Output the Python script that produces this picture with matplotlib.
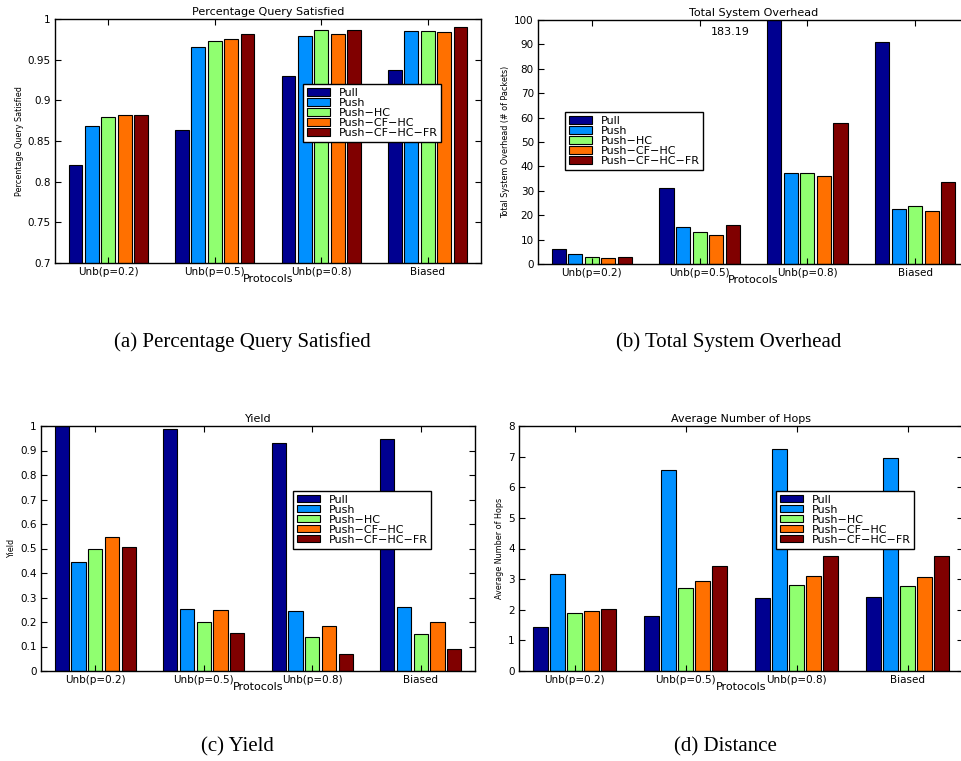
import numpy as np
import matplotlib
matplotlib.use("Agg")
import matplotlib.pyplot as plt
from matplotlib.ticker import FormatStrFormatter

plt.rcParams["font.family"] = ["DejaVu Sans"]

W, H = 961, 761

protocols = ["Unb(p=0.2)", "Unb(p=0.5)", "Unb(p=0.8)", "Biased"]
series = ["Pull", "Push", "Push\u2212HC", "Push\u2212CF\u2212HC", "Push\u2212CF\u2212HC\u2212FR"]
# jet colormap picks, one per protocol variant
colors = ["#000090", "#0090ff", "#90ff70", "#ff7000", "#800000"]

query_sat = [
    [0.820, 0.863, 0.930, 0.937],   # Pull
    [0.869, 0.965, 0.979, 0.985],   # Push
    [0.879, 0.973, 0.986, 0.985],   # Push-HC
    [0.882, 0.976, 0.982, 0.984],   # Push-CF-HC
    [0.882, 0.982, 0.987, 0.990],   # Push-CF-HC-FR
]
overhead = [
    [6.3, 31.0, 183.19, 90.8],
    [4.0, 15.3, 37.4, 22.4],
    [2.7, 13.0, 37.4, 23.8],
    [2.6, 11.7, 35.9, 21.6],
    [2.9, 16.0, 57.7, 33.6],
]
yield_ = [
    [0.998, 0.986, 0.932, 0.946],
    [0.446, 0.255, 0.243, 0.262],
    [0.500, 0.202, 0.139, 0.150],
    [0.545, 0.248, 0.184, 0.200],
    [0.508, 0.157, 0.068, 0.091],
]
hops = [
    [1.44, 1.78, 2.39, 2.42],
    [3.17, 6.57, 7.25, 6.94],
    [1.91, 2.72, 2.82, 2.78],
    [1.97, 2.95, 3.11, 3.08],
    [2.04, 3.44, 3.76, 3.77],
]

fig = plt.figure(figsize=(W / 100, H / 100), dpi=100)


def px_axes(l, r, t, b):
    return fig.add_axes([l / W, 1 - b / H, (r - l) / W, (b - t) / H])


def grouped_bars(ax, data, title, ylabel, ylim, yticks, fmt, leg_box):
    x = np.arange(1, len(protocols) + 1)
    step = 0.769 / len(series)
    for i, (name, vals) in enumerate(zip(series, data)):
        ax.bar(x + (i - 2) * step, vals, width=step * 0.85, color=colors[i],
               edgecolor="black", linewidth=0.8, label=name)
    ax.set_xlim(0.5, 4.5)
    ax.set_ylim(*ylim)
    ax.set_yticks(yticks)
    ax.yaxis.set_major_formatter(FormatStrFormatter(fmt))
    ax.set_xticks(x)
    ax.set_xticklabels(protocols)
    ax.tick_params(direction="in", length=4, width=0.8, top=True, right=True,
                   labelsize=7.5, pad=3)
    for s in ax.spines.values():
        s.set_linewidth(1.0)
    ax.set_title(title, fontsize=8, pad=3)
    ax.set_xlabel("Protocols", fontsize=8, labelpad=-2)
    ax.set_ylabel(ylabel, fontsize=5.8, labelpad=3)
    lx, ly = leg_box
    ax.legend(loc="upper left", bbox_to_anchor=(lx / W, 1 - ly / H),
              bbox_transform=fig.transFigure, fontsize=8, fancybox=False,
              framealpha=1, edgecolor="black", borderaxespad=0, borderpad=0.35,
              labelspacing=0.0, handlelength=2.1, handleheight=0.6,
              handletextpad=0.75)
    ax.get_legend().get_frame().set_linewidth(1.0)


ax_a = px_axes(55, 481, 19, 263)
grouped_bars(ax_a, query_sat, "Percentage Query Satisfied", "Percentage Query Satisfied",
             (0.7, 1.0), np.arange(0.7, 1.0001, 0.05), "%g", (303, 84))

ax_b = px_axes(538, 969, 20, 264)
grouped_bars(ax_b, overhead, "Total System Overhead", "Total System Overhead (# of Packets)",
             (0, 100), np.arange(0, 101, 10), "%g", (565, 112))
ax_b.text(2.28, 95, f"{overhead[0][2]:.2f}", ha="center", va="center", fontsize=8)

ax_c = px_axes(41, 475, 426, 671)
grouped_bars(ax_c, yield_, "Yield", "Yield",
             (0, 1.0), np.arange(0, 1.0001, 0.1), "%g", (293, 491))

ax_d = px_axes(519, 963, 426, 671)
grouped_bars(ax_d, hops, "Average Number of Hops", "Average Number of Hops",
             (0, 8), np.arange(0, 9, 1), "%g", (776, 491))

captions = [("(a) Percentage Query Satisfied", 242, 342),
            ("(b) Total System Overhead", 729, 342),
            ("(c) Yield", 237, 747),
            ("(d) Distance", 725, 747)]
for txt, cx, cy in captions:
    fig.text(cx / W, 1 - cy / H, txt, ha="center", va="center",
             fontsize=15, family=["Liberation Serif", "DejaVu Serif"])

fig.savefig("out.png", dpi=100)
